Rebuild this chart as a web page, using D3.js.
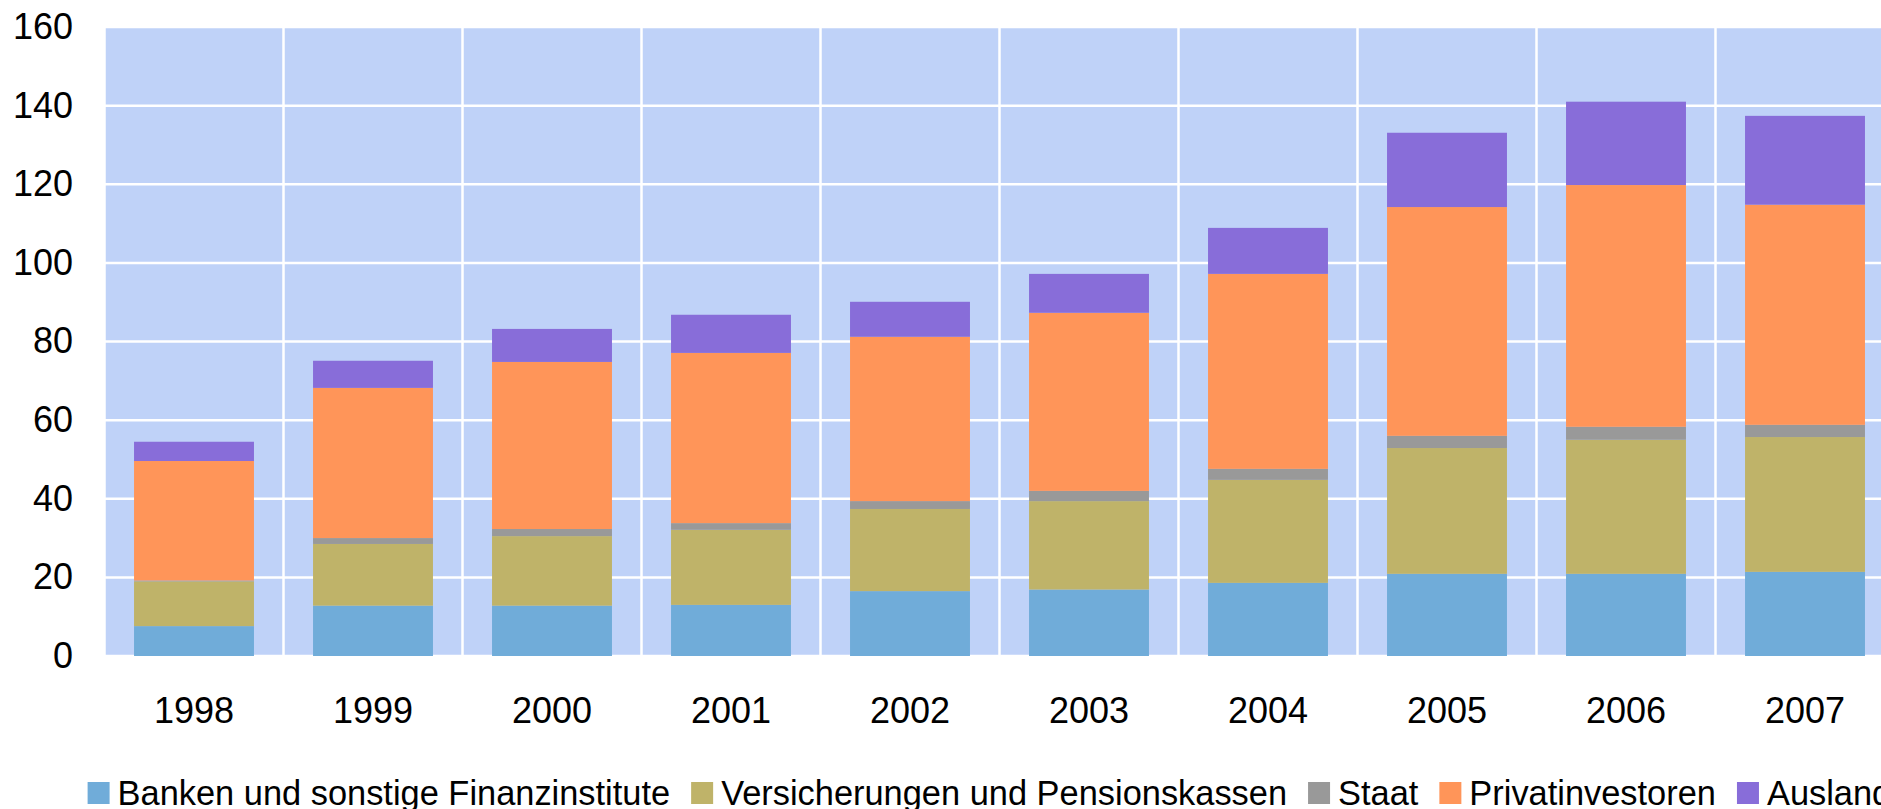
<!DOCTYPE html>
<html>
<head>
<meta charset="utf-8">
<script src="https://cdn.jsdelivr.net/npm/d3@7"></script>
<style>
  body { margin: 0; background: #fff; }
  svg text { font-family: "Liberation Sans", Arial, sans-serif; fill: #000; }
</style>
</head>
<body>
<div id="container"></div>
<script>
// Data (Mrd.)
var years = ["1998", "1999", "2000", "2001", "2002", "2003", "2004", "2005", "2006", "2007"];
var seriesNames = ["Banken und sonstige Finanzinstitute", "Versicherungen und Pensionskassen", "Staat", "Privatinvestoren", "Ausland"];
var banken = [7.6, 12.8, 12.8, 13.0, 16.5, 16.9, 18.6, 20.9, 20.9, 21.4];
var versicherungen = [11.4, 15.7, 17.7, 19.1, 20.9, 22.5, 26.2, 32.0, 34.1, 34.3];
var staat = [0.2, 1.5, 1.8, 1.7, 2.0, 2.6, 2.8, 3.1, 3.3, 3.1];
var privat = [30.4, 38.2, 42.5, 43.3, 41.8, 45.3, 49.6, 58.2, 61.5, 56.0];
var ausland = [4.9, 6.9, 8.4, 9.7, 8.9, 9.9, 11.7, 18.9, 21.2, 22.6];
var yTicks = [0, 20, 40, 60, 80, 100, 120, 140, 160];

var colours = ["#70acd9", "#bfb369", "#999999", "#ff9559", "#886dd9"];

// build rows for d3.stack
var allSeries = [banken, versicherungen, staat, privat, ausland];
var rows = years.map(function(y, i){
    var r = {year: y};
    seriesNames.forEach(function(s, j){ r[s] = allSeries[j][i]; });
    return r;
});

var width = 1881, height = 809;
var plotLeft = 104.5, plotTop = 27, plotBottom = 656;
var bandW = 179;

var svg = d3.select("#container").append("svg")
    .attr("width", width)
    .attr("height", height);

var xScale = d3.scaleBand()
    .domain(years)
    .range([plotLeft, plotLeft + bandW * years.length])
    .padding(0);

var yScale = d3.scaleLinear()
    .domain([0, 160])
    .range([plotBottom, plotTop]);

// plot background
svg.append("rect")
    .attr("x", plotLeft)
    .attr("y", plotTop)
    .attr("width", bandW * years.length)
    .attr("height", plotBottom - plotTop)
    .attr("fill", "#bfd2f8");

// horizontal gridlines
svg.append("g").selectAll("line")
    .data(yTicks)
    .enter().append("line")
    .attr("x1", plotLeft)
    .attr("x2", plotLeft + bandW * years.length)
    .attr("y1", function(d){ return yScale(d); })
    .attr("y2", function(d){ return yScale(d); })
    .attr("stroke", "#fff")
    .attr("stroke-width", 2.5);

// vertical gridlines between categories
svg.append("g").selectAll("line")
    .data(years)
    .enter().append("line")
    .attr("x1", function(d){ return xScale(d); })
    .attr("x2", function(d){ return xScale(d); })
    .attr("y1", plotTop)
    .attr("y2", plotBottom)
    .attr("stroke", "#fff")
    .attr("stroke-width", 2.5);

// stacked bars
var stack = d3.stack().keys(seriesNames);
var stacked = stack(rows);
var barW = xScale.bandwidth() * 0.67;

svg.append("g").selectAll("g")
    .data(stacked)
    .enter().append("g")
    .attr("fill", function(d, i){ return colours[i]; })
    .selectAll("rect")
    .data(function(d){ return d; })
    .enter().append("rect")
    .attr("x", function(d){ return xScale(d.data.year) + (xScale.bandwidth() - barW) / 2; })
    .attr("y", function(d){ return yScale(d[1]); })
    .attr("width", barW)
    .attr("height", function(d){ return yScale(d[0]) - yScale(d[1]); });

// y axis labels
svg.append("g").selectAll("text")
    .data(yTicks)
    .enter().append("text")
    .attr("x", 73)
    .attr("y", function(d){ return yScale(d); })
    .attr("dy", "0.33em")
    .attr("text-anchor", "end")
    .style("font-size", "36px")
    .text(function(d){ return d; });

// x axis labels
svg.append("g").selectAll("text")
    .data(years)
    .enter().append("text")
    .attr("x", function(d){ return xScale(d) + xScale.bandwidth() / 2; })
    .attr("y", 722.5)
    .attr("text-anchor", "middle")
    .style("font-size", "36px")
    .text(function(d){ return d; });

// legend, laid out left to right (last entry runs off the right edge as in the original)
var legend = svg.append("g");
var lx = 87.6;
seriesNames.forEach(function(name, i){
    legend.append("rect")
        .attr("x", lx)
        .attr("y", 782)
        .attr("width", 22)
        .attr("height", 22)
        .attr("fill", colours[i]);
    var t = legend.append("text")
        .attr("x", lx + 30)
        .attr("y", 805)
        .style("font-size", "34.4px")
        .text(name);
    lx = lx + 30 + t.node().getComputedTextLength() + 21;
});
</script>
</body>
</html>
